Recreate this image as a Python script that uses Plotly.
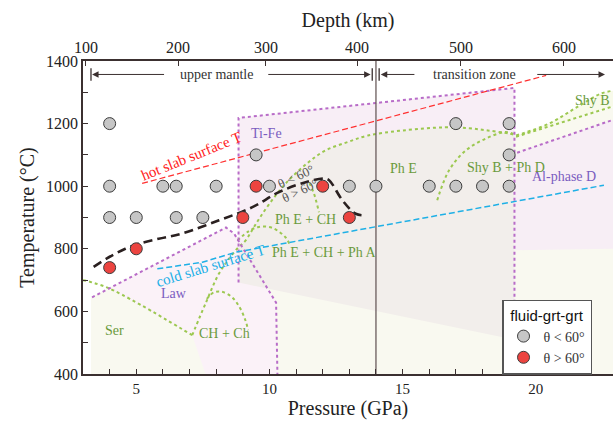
import plotly.graph_objects as go

# ---------------- data ----------------
gray_P = [4, 4, 4, 5, 6, 6.5, 6.5, 7.5, 8, 9.5, 10, 13, 14, 16, 17, 17, 18, 19, 19, 19]
gray_T = [1200, 1000, 900, 900, 1000, 1000, 900, 900, 1000, 1100, 1000, 1000, 1000, 1000, 1200, 1000, 1000, 1200, 1100, 1000]
red_P = [4, 5, 9, 9.5, 12, 13]
red_T = [740, 800, 900, 1000, 1000, 900]

theta_P = [3.40, 3.97, 4.59, 5.09, 5.84, 6.72, 8.11, 9.36, 10.36, 11.36, 12.05, 12.24, 12.74, 13.24, 13.62]
theta_T = [742, 773, 800, 816, 832, 849, 891, 933, 981, 1013, 1024, 1019, 955, 912, 907]

hot_P = [5.22, 20.39]
hot_T = [1009, 1354]
cold_P = [5.79, 7.48, 8.73, 22.56]
cold_T = [736, 757, 789, 1003]

ser_P = [3.0, 3.97, 7.1]
ser_T = [700, 674, 524]
phe_P = [7.1, 7.6, 8.1, 8.5, 8.84, 9.1, 9.5, 10.0, 10.6, 11.4, 12.1, 12.9, 13.7, 15.0, 16.6, 17.5, 18.2, 19.0, 19.26]
phe_T = [524, 625, 720, 770, 805, 826, 881, 944, 1008, 1072, 1114, 1140, 1162, 1178, 1188, 1185, 1178, 1168, 1162]
chch_P = [7.65, 7.9, 8.2, 8.6, 8.9, 9.1, 9.2]
chch_T = [640, 660, 663, 645, 610, 571, 540]
pha_P = [8.8, 9.2, 9.6, 10.1, 10.6, 10.75]
pha_T = [826, 855, 870, 867, 837, 815]
phech_P = [11.5, 11.67, 11.86]
phech_T = [1010, 977, 917]
shyd_P = [16.3, 16.74, 17.37, 18.12, 18.87, 19.26]
shyd_T = [955, 1050, 1114, 1152, 1173, 1164]
shyu_P = [19.26, 20.5, 21.5, 22.45, 22.9]
shyu_T = [1162, 1200, 1250, 1296, 1305]
shyl_P = [19.26, 22.9]
shyl_T = [1158, 1255]

tife_P = [8.84, 8.84, 19.2, 19.2]
tife_T = [692, 1218, 1314, 400]
law_P = [3.34, 8.37, 8.67, 10.25, 10.3]
law_T = [645, 868, 849, 628, 400]
ald_P = [19.3, 22.9]
ald_T = [1107, 1212]
slope_P = [8.84, 19.2]
slope_T = [692, 510]

depth_km = [100, 200, 300, 400, 500, 600]
depth_P = [3.11, 6.57, 9.87, 13.29, 17.19, 21.06]
tz_P = 14.0

SERIF = "Liberation Serif"
SANS = "Liberation Sans"
AX = "#3b3030"
GREEN = "#9cc850"
GTXT = "#6a9a3c"
PURP = "#b86cc8"
PTXT = "#7a5cc0"

fig = go.Figure()

def poly(P, T, color):
    fig.add_trace(go.Scatter(x=P, y=T, fill="toself", fillcolor=color, mode="none",
                             hoverinfo="skip", showlegend=False))

# ---------------- fills ----------------
poly([3.3, 3.3, 8.37, 8.67, 8.84, 8.84, 19.26, 22.9, 22.9],
     [400, 645, 868, 849, 835, 1162, 1162, 1252, 400], "#f9f9f0")
poly(law_P[:5] + [7.6, 7.1, 3.97], law_T[:5] + [400, 524, 674], "#fbf2f8")
idx = [i for i, p in enumerate(phe_P) if p >= 8.84]
curveP = [phe_P[i] for i in idx]
curveT = [phe_T[i] for i in idx]
poly([slope_P[0], slope_P[1], 19.2] + curveP[::-1], [slope_T[0], slope_T[1], 1162] + curveT[::-1], "#f2eeeb")
poly([8.84, 19.2, 19.2] + curveP[::-1], [1218, 1314, 1162] + curveT[::-1], "#f8eef6")
poly([19.2, ald_P[1], 22.9, 19.2], [ald_T[0], ald_T[1], 800, 795], "#f7eef5")
poly(shyu_P + shyl_P[::-1], shyu_T + shyl_T[::-1], "#f8faea")

def line(P, T, color, width, dash, shape="linear"):
    fig.add_trace(go.Scatter(x=P, y=T, mode="lines", hoverinfo="skip", showlegend=False,
                             line=dict(color=color, width=width, dash=dash, shape=shape)))

# ---------------- boundaries ----------------
for P, T in [(ser_P, ser_T), (phe_P, phe_T), (chch_P, chch_T), (pha_P, pha_T),
             (phech_P, phech_T), (shyd_P, shyd_T), (shyu_P, shyu_T), (shyl_P, shyl_T)]:
    line(P, T, GREEN, 2, "dot", "spline")
for P, T in [(tife_P, tife_T), (law_P, law_T), (ald_P, ald_T)]:
    line(P, T, PURP, 2, "dot")
line(hot_P, hot_T, "#ff3030", 1.2, "6px,3px")
line(cold_P, cold_T, "#1fb0e6", 1.5, "6px,3px")
line([tz_P, tz_P], [400, 1400], "#6a5c5c", 1.3, "solid")
line(theta_P, theta_T, "#2a2020", 2.6, "9px,5px", "spline")

# ---------------- points ----------------
fig.add_trace(go.Scatter(x=gray_P, y=gray_T, mode="markers", name="θ < 60°",
                         marker=dict(size=12, color="#c6c6c6", line=dict(color="#3c3c3c", width=1))))
fig.add_trace(go.Scatter(x=red_P, y=red_T, mode="markers", name="θ > 60°",
                         marker=dict(size=12, color="#ec4440", line=dict(color="#3c3c3c", width=1))))
# dummy trace for top axis
fig.add_trace(go.Scatter(x=[3], y=[400], xaxis="x2", mode="markers", marker=dict(opacity=0),
                         showlegend=False, hoverinfo="skip"))

# zone bars
fig.add_trace(go.Scatter(x=[3.3, 13.86, 14.12], y=[1357, 1357, 1357], mode="markers", showlegend=False,
                         hoverinfo="skip", marker=dict(symbol="line-ns", size=9,
                                                        line=dict(color=AX, width=1.3))))

ann = []
def arrow(x_end, x_start, y=1357):
    ann.append(dict(x=x_end, y=y, ax=x_start, ay=y, xref="x", yref="y", axref="x", ayref="y",
                    showarrow=True, arrowhead=2, arrowsize=1.3, arrowwidth=1, arrowcolor=AX, text=""))
arrow(3.34, 6.1)
arrow(13.8, 9.9)
arrow(14.18, 15.5)
arrow(22.6, 20.0)

def txt(x, y, s, color, size=14, angle=0, font=SERIF, xanchor="center"):
    ann.append(dict(x=x, y=y, text=s, showarrow=False, textangle=angle, xanchor=xanchor,
                    font=dict(family=font, size=size, color=color)))
txt(8.03, 1357, "upper mantle", "#333333", 14)
txt(17.7, 1357, "transition zone", "#333333", 14)
txt(7.09, 1095, "hot slab surface T", "#ff2020", 15, -22)
txt(7.77, 745, "cold slab surface T", "#18aee6", 15, -17)
txt(11.0, 1030, "θ < 60°", "#555555", 13, -25)
txt(11.15, 986, "θ > 60°", "#555555", 13, -25)
txt(9.9, 1169, "Ti-Fe", PTXT, 14)
txt(6.42, 657, "Law", PTXT, 14)
txt(21.06, 1031, "Al-phase D", PTXT, 14)
txt(15.05, 1057, "Ph E", GTXT, 14)
txt(18.9, 1060, "Shy B + Ph D", GTXT, 14)
txt(22.88, 1274, "Shy B", GTXT, 14, xanchor="right")
txt(11.37, 894, "Ph E + CH", GTXT, 14)
txt(12.05, 789, "Ph E + CH + Ph A", GTXT, 14)
txt(4.2, 540, "Ser", GTXT, 14)
txt(8.3, 530, "CH + Ch", GTXT, 14)

fig.update_layout(
    width=613, height=425,
    margin=dict(l=83, r=0, t=61, b=51),
    paper_bgcolor="white", plot_bgcolor="white",
    font=dict(family=SERIF, color="#222222"),
    annotations=ann,
    showlegend=True,
    legend=dict(x=0.7906, y=0.238, xanchor="left", yanchor="top",
                bgcolor="white", bordercolor="#555555", borderwidth=1.5,
                font=dict(family=SERIF, size=14, color="#333333"),
                title=dict(text="fluid-grt-grt", side="top center",
                           font=dict(family=SANS, size=15, color="#111111")),
                itemwidth=30, tracegroupgap=0),
    xaxis=dict(range=[3, 22.9], showgrid=False, zeroline=False, showline=True, linecolor=AX,
               linewidth=1.5, ticks="inside", ticklen=5, tickcolor=AX, tick0=0, dtick=5,
               minor=dict(dtick=1, ticks="inside", ticklen=5, tickcolor=AX),
               tickfont=dict(family=SERIF, size=15, color="#222"),
               title=dict(text="Pressure (GPa)", font=dict(family=SERIF, size=20, color="#222"), standoff=2)),
    xaxis2=dict(range=[3, 22.9], overlaying="x", side="top", showgrid=False, zeroline=False,
                showline=True, linecolor=AX, linewidth=1.5, ticks="inside", ticklen=5, tickcolor=AX,
                tickvals=depth_P, ticktext=[str(d) for d in depth_km],
                tickfont=dict(family=SERIF, size=16, color="#222"),
                title=dict(text="Depth (km)", font=dict(family=SERIF, size=20, color="#222"), standoff=6)),
    yaxis=dict(range=[400, 1400], showgrid=False, zeroline=False, showline=True, linecolor=AX,
               linewidth=1.5, ticks="inside", ticklen=5, tickcolor=AX, tick0=0, dtick=200,
               minor=dict(dtick=100, ticks="inside", ticklen=5, tickcolor=AX),
               tickfont=dict(family=SERIF, size=16, color="#222"),
               title=dict(text="Temperature (°C)", font=dict(family=SERIF, size=20, color="#222"), standoff=6)),
)

# remove the page's default body margin / scrollbars so the 613x425 figure fills the window
fig.write_html("out.html", config={"displayModeBar": False},
               post_script="document.body.style.margin='0';document.body.style.overflow='hidden';")
